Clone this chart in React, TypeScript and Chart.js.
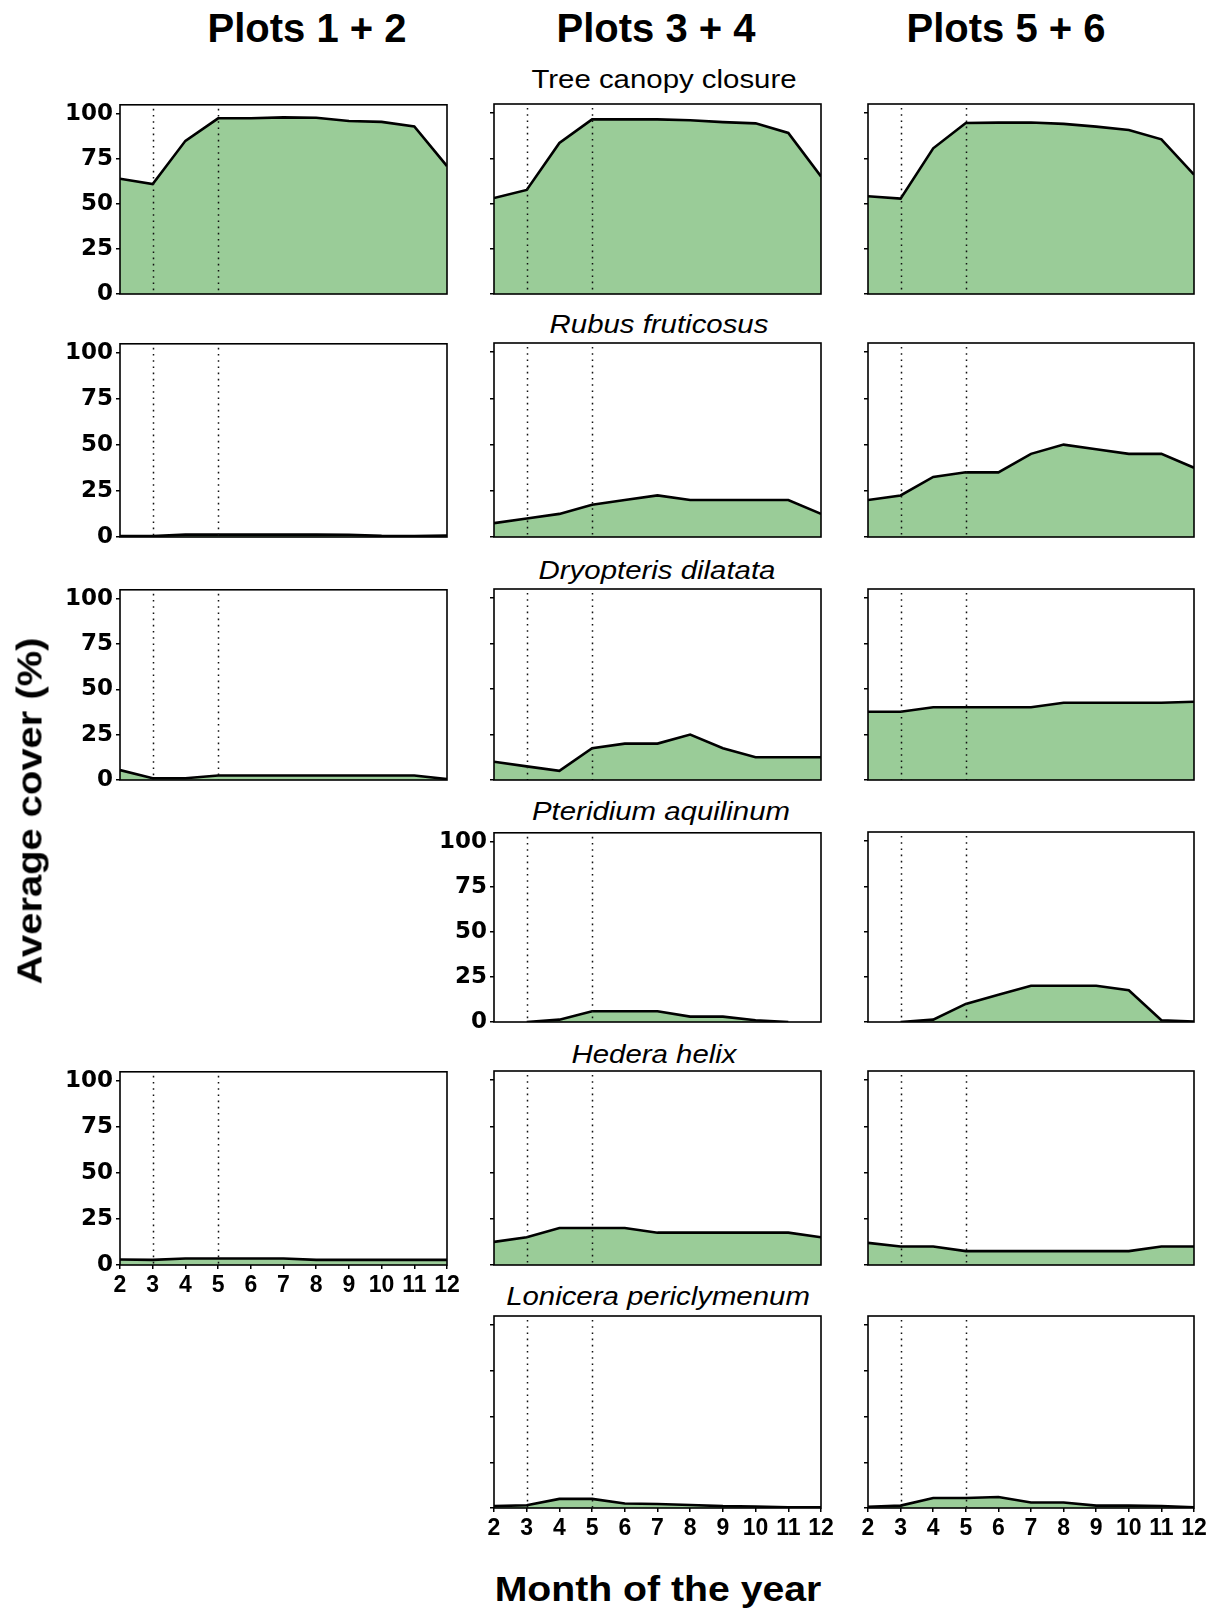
import React, { useEffect, useRef } from 'react';
import { Chart, registerables } from 'chart.js';

Chart.register(...registerables);

// ---- data ----
const MONTHS = [2, 3, 4, 5, 6, 7, 8, 9, 10, 11, 12];
const Y_TICKS = [0, 25, 50, 75, 100];
const Y_MAX = 105;
const MARKER_MONTHS = [3, 5];

const COLUMN_HEADERS = ['Plots 1 + 2', 'Plots 3 + 4', 'Plots 5 + 6'];
const ROW_TITLES = [
  'Tree canopy closure',
  'Rubus fruticosus',
  'Dryopteris dilatata',
  'Pteridium aquilinum',
  'Hedera helix',
  'Lonicera periclymenum',
];
const X_TITLE = 'Month of the year';
const Y_TITLE = 'Average cover (%)';

// Tree canopy closure
const canopyP12 = [64, 61, 85, 97.5, 97.5, 98, 97.8, 96, 95.5, 93, 71];
const canopyP34 = [53, 57.5, 83.5, 96.5, 96.5, 96.5, 96, 95, 94.3, 89, 65];
const canopyP56 = [54, 52.7, 80.5, 94.5, 94.7, 94.8, 94, 92.5, 90.6, 85.5, 66];
// Rubus fruticosus
const rubusP12 = [0.5, 0.5, 1.3, 1.3, 1.3, 1.3, 1.3, 1.2, 0.6, 0.5, 0.8];
const rubusP34 = [7.5, 10, 12.5, 17.5, 20, 22.5, 20, 20, 20, 20, 12.5];
const rubusP56 = [20, 22.5, 32.5, 35, 35, 45, 50, 47.5, 45, 45, 37.5];
// Dryopteris dilatata
const dryoP12 = [5.5, 1, 1, 2.5, 2.5, 2.5, 2.5, 2.5, 2.5, 2.5, 0.5];
const dryoP34 = [10, 7.5, 5, 17.5, 20, 20, 25, 17.5, 12.5, 12.5, 12.5];
const dryoP56 = [37.5, 37.5, 40, 40, 40, 40, 42.5, 42.5, 42.5, 42.5, 43];
// Pteridium aquilinum
const pteriP34 = [null, 0, 1.3, 6, 6, 6, 3, 3, 1, 0, null];
const pteriP56 = [null, 0, 1.3, 10, 15, 20, 20, 20, 17.5, 1, 0.3];
// Hedera helix
const hederaP12 = [3, 2.8, 3.5, 3.5, 3.5, 3.5, 2.8, 2.8, 2.8, 2.8, 2.8];
const hederaP34 = [12.5, 15, 20, 20, 20, 17.5, 17.5, 17.5, 17.5, 17.5, 15];
const hederaP56 = [12, 10, 10, 7.5, 7.5, 7.5, 7.5, 7.5, 7.5, 10, 10];
// Lonicera periclymenum
const loniP34 = [1, 1.5, 5, 5, 2.5, 2.2, 1.6, 1, 0.8, 0.4, 0.4];
const loniP56 = [0.7, 1.3, 5.5, 5.5, 6, 3, 3, 1.3, 1.3, 1.1, 0.4];

type Panel = {
  row: number;
  col: number;
  values: (number | null)[];
  yLabels: boolean;
  xLabels: boolean;
};

const PANELS: Panel[] = [
  { row: 0, col: 0, values: canopyP12, yLabels: true, xLabels: false },
  { row: 0, col: 1, values: canopyP34, yLabels: false, xLabels: false },
  { row: 0, col: 2, values: canopyP56, yLabels: false, xLabels: false },
  { row: 1, col: 0, values: rubusP12, yLabels: true, xLabels: false },
  { row: 1, col: 1, values: rubusP34, yLabels: false, xLabels: false },
  { row: 1, col: 2, values: rubusP56, yLabels: false, xLabels: false },
  { row: 2, col: 0, values: dryoP12, yLabels: true, xLabels: false },
  { row: 2, col: 1, values: dryoP34, yLabels: false, xLabels: false },
  { row: 2, col: 2, values: dryoP56, yLabels: false, xLabels: false },
  { row: 3, col: 1, values: pteriP34, yLabels: true, xLabels: false },
  { row: 3, col: 2, values: pteriP56, yLabels: false, xLabels: false },
  { row: 4, col: 0, values: hederaP12, yLabels: true, xLabels: true },
  { row: 4, col: 1, values: hederaP34, yLabels: false, xLabels: false },
  { row: 4, col: 2, values: hederaP56, yLabels: false, xLabels: false },
  { row: 5, col: 1, values: loniP34, yLabels: false, xLabels: true },
  { row: 5, col: 2, values: loniP56, yLabels: false, xLabels: true },
];

// ---- layout ----
const COL_LEFT = [120, 494, 868];
const COL_WIDTH = [327, 327, 326];
const ROW_TOP = [104, 343, 589, 832, 1071, 1316];
const ROW_BOTTOM = [294, 537, 780, 1022, 1265, 1508];
const PAD_L = 76;
const PAD_R = 26;
const PAD_T = 16;
const PAD_B = 44;

const HEADER_POS = [
  [307, 28],
  [656, 28],
  [1006, 28],
];
const TITLE_POS = [
  [664, 79],
  [659, 324],
  [657, 570],
  [661, 811],
  [654, 1054],
  [658, 1296],
];

const FILL = '#9acc98';
const SANS = '"Liberation Sans", Arial, sans-serif';
const Y_TICK_FAMILY = '"DejaVu Sans", sans-serif';
const X_TICK_FAMILY = '"Liberation Sans", Arial, sans-serif';

const framePlugin = {
  id: 'panelFrame',
  afterDatasetsDraw(chart: any) {
    const { ctx, chartArea } = chart;
    const xs = chart.scales.x;
    ctx.save();
    // dotted month markers
    ctx.strokeStyle = '#111';
    ctx.lineWidth = 1.5;
    ctx.setLineDash([1.6, 4.6]);
    MARKER_MONTHS.forEach((m) => {
      const px = Math.round(xs.getPixelForValue(m)) + 0.5;
      ctx.beginPath();
      ctx.moveTo(px, chartArea.top + 4);
      ctx.lineTo(px, chartArea.bottom);
      ctx.stroke();
    });
    // panel box
    ctx.setLineDash([]);
    ctx.strokeStyle = '#000';
    ctx.lineWidth = 1.6;
    ctx.strokeRect(
      chartArea.left,
      chartArea.top,
      chartArea.right - chartArea.left,
      chartArea.bottom - chartArea.top
    );
    ctx.restore();
  },
};

function PanelChart({ panel }: { panel: Panel }) {
  const ref = useRef<HTMLCanvasElement | null>(null);
  const plotW = COL_WIDTH[panel.col];
  const plotH = ROW_BOTTOM[panel.row] - ROW_TOP[panel.row];
  const w = plotW + PAD_L + PAD_R;
  const h = plotH + PAD_T + PAD_B;

  useEffect(() => {
    if (!ref.current) return;
    const chart = new Chart(ref.current, {
      type: 'line',
      data: {
        datasets: [
          {
            data: MONTHS.map((m, i) => ({ x: m, y: panel.values[i] })) as any,
            borderColor: '#000',
            borderWidth: 2.6,
            backgroundColor: FILL,
            fill: 'origin',
            pointRadius: 0,
            tension: 0,
            spanGaps: false,
          },
        ],
      },
      options: {
        animation: false,
        responsive: false,
        maintainAspectRatio: false,
        events: [],
        layout: { padding: { left: 0, top: PAD_T, right: PAD_R, bottom: 0 } },
        plugins: {
          legend: { display: false },
          tooltip: { enabled: false },
        },
        scales: {
          x: {
            type: 'linear',
            min: MONTHS[0],
            max: MONTHS[MONTHS.length - 1],
            afterBuildTicks: (s: any) => {
              s.ticks = MONTHS.map((v) => ({ value: v }));
            },
            afterFit: (s: any) => {
              s.height = PAD_B;
            },
            border: { display: false },
            grid: {
              display: panel.xLabels,
              drawOnChartArea: false,
              drawTicks: true,
              tickLength: 4,
              color: '#000',
              lineWidth: 1.5,
            },
            ticks: {
              display: panel.xLabels,
              autoSkip: false,
              maxRotation: 0,
              minRotation: 0,
              padding: 3,
              color: '#000',
              font: { family: X_TICK_FAMILY, weight: 'bold', size: 23 },
            },
          },
          y: {
            min: 0,
            max: Y_MAX,
            afterBuildTicks: (s: any) => {
              s.ticks = Y_TICKS.map((v) => ({ value: v }));
            },
            afterFit: (s: any) => {
              s.width = PAD_L;
            },
            border: { display: false },
            grid: {
              display: true,
              drawOnChartArea: false,
              drawTicks: true,
              tickLength: 4,
              color: '#000',
              lineWidth: 1.5,
            },
            ticks: {
              display: panel.yLabels,
              padding: 3,
              color: '#000',
              font: { family: Y_TICK_FAMILY, weight: 'bold', size: 23 },
            },
          },
        },
      },
      plugins: [framePlugin],
    });
    return () => chart.destroy();
  }, [panel]);

  return (
    <canvas
      ref={ref}
      width={w}
      height={h}
      style={{
        position: 'absolute',
        left: COL_LEFT[panel.col] - PAD_L,
        top: ROW_TOP[panel.row] - PAD_T,
        width: w,
        height: h,
      }}
    />
  );
}

const centered = (x: number, y: number, extra: React.CSSProperties, transform = '') =>
  ({
    position: 'absolute',
    left: x,
    top: y,
    lineHeight: 1,
    whiteSpace: 'nowrap',
    color: '#000',
    fontFamily: SANS,
    transform: `translate(-50%, -50%) ${transform}`,
    ...extra,
  }) as React.CSSProperties;

export default function App() {
  return (
    <div
      style={{
        position: 'absolute',
        left: 0,
        top: 0,
        width: 1218,
        height: 1612,
        background: '#fff',
        overflow: 'hidden',
      }}
    >
      {COLUMN_HEADERS.map((t, i) => (
        <div key={t} style={centered(HEADER_POS[i][0], HEADER_POS[i][1], { fontSize: 40, fontWeight: 'bold' })}>
          {t}
        </div>
      ))}
      {ROW_TITLES.map((t, i) => (
        <div
          key={t}
          style={centered(
            TITLE_POS[i][0],
            TITLE_POS[i][1],
            { fontSize: 26, fontStyle: i === 0 ? 'normal' : 'italic' },
            'scaleX(1.13)'
          )}
        >
          {t}
        </div>
      ))}
      {PANELS.map((p) => (
        <PanelChart key={`${p.row}-${p.col}`} panel={p} />
      ))}
      <div style={centered(658, 1588, { fontSize: 35, fontWeight: 'bold' }, 'scaleX(1.12)')}>{X_TITLE}</div>
      <div style={centered(29, 811, { fontSize: 35, fontWeight: 'bold' }, 'rotate(-90deg) scaleX(1.14)')}>
        {Y_TITLE}
      </div>
    </div>
  );
}
